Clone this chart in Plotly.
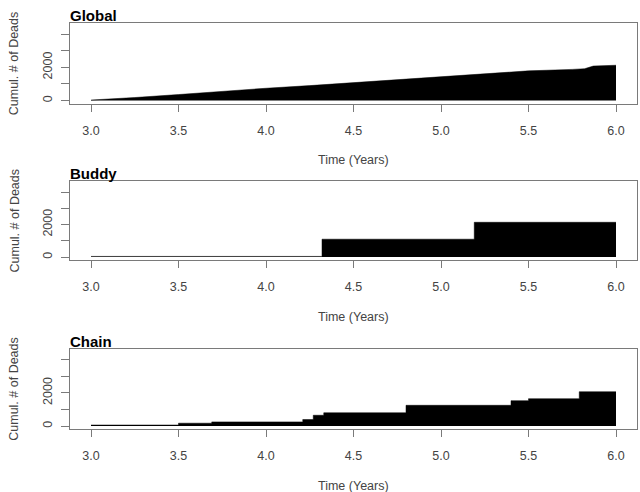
import plotly.graph_objects as go

# ---- data ----
panel_titles = ["Global", "Buddy", "Chain"]

global_t = [3.0, 3.1, 3.25, 3.5, 3.75, 4.0, 4.25, 4.5, 4.75, 5.0, 5.25, 5.5, 5.75, 5.82, 5.87, 6.0]
global_d = [30, 80, 180, 360, 560, 740, 900, 1080, 1260, 1440, 1620, 1790, 1880, 1920, 2080, 2130]

buddy_t = [3.0, 4.32, 5.19, 6.0]
buddy_d = [40, 1100, 2140, 2140]

chain_t = [3.0, 3.5, 3.69, 4.21, 4.27, 4.33, 4.8, 5.4, 5.5, 5.79, 6.0]
chain_d = [60, 170, 250, 390, 650, 800, 1250, 1530, 1650, 2070, 2070]

x_ticks = [3.0, 3.5, 4.0, 4.5, 5.0, 5.5, 6.0]
y_ticks = [0, 1000, 2000, 3000, 4000]
y_tick_text = ["0", "", "2000", "", ""]

x_label = "Time (Years)"
y_label = "Cumul. # of Deads"

# ---- layout geometry (pixels) ----
W, H = 640, 492
left_px, right_px = 70, 637
boxes = [(23, 103.5), (181, 260), (348.5, 429)]  # (top, bottom) in px

FONT = "Liberation Sans, Arial, Helvetica, sans-serif"
AX_COL = "#7a7a7a"
TXT_COL = "#444444"

fig = go.Figure()
series = [(global_t, global_d, "linear"), (buddy_t, buddy_d, "hv"), (chain_t, chain_d, "hv")]

annotations = []
for i, ((t, d, shape), (top, bot)) in enumerate(zip(series, boxes)):
    xa = "x" if i == 0 else f"x{i+1}"
    ya = "y" if i == 0 else f"y{i+1}"
    fig.add_trace(go.Scatter(
        x=t, y=d, mode="lines", line=dict(color="black", width=0.5, shape=shape),
        fill="tozeroy", fillcolor="black", xaxis=xa, yaxis=ya, showlegend=False,
        hoverinfo="skip"))
    xdom = [left_px / W, right_px / W]
    ydom = [1 - bot / H, 1 - top / H]
    xkey = "xaxis" if i == 0 else f"xaxis{i+1}"
    ykey = "yaxis" if i == 0 else f"yaxis{i+1}"
    fig.update_layout(**{
        xkey: dict(domain=xdom, anchor=ya, range=[2.88, 6.12], tickvals=x_ticks,
                   tickformat=".1f", ticks="outside", ticklen=7, tickcolor=AX_COL,
                   showline=True, linecolor=AX_COL, linewidth=1, mirror=True,
                   showgrid=False, zeroline=False, ticklabelstandoff=8,
                   tickfont=dict(family=FONT, size=12.5, color=TXT_COL)),
        ykey: dict(domain=ydom, anchor=xa, range=[-180, 4680], tickvals=y_ticks,
                   ticktext=y_tick_text, tickangle=-90, ticks="outside", ticklen=8,
                   tickcolor=AX_COL, showline=True, linecolor=AX_COL, linewidth=1,
                   mirror=True, showgrid=False, zeroline=False, ticklabelstandoff=4,
                   tickfont=dict(family=FONT, size=12.5, color=TXT_COL)),
    })
    # panel title
    annotations.append(dict(text=f"<b>{panel_titles[i]}</b>", xref="paper", yref="paper",
                            x=left_px / W, y=1 - top / H, xanchor="left", yanchor="bottom",
                            showarrow=False, font=dict(family=FONT, size=15, color="black"),
                            xshift=-2, yshift=-3))
    # x label
    annotations.append(dict(text=x_label, xref="paper", yref="paper",
                            x=(left_px + right_px) / 2 / W, y=1 - (bot + 57) / H,
                            xanchor="center", yanchor="middle", showarrow=False,
                            font=dict(family=FONT, size=12.5, color=TXT_COL)))
    # y label
    annotations.append(dict(text=y_label, xref="paper", yref="paper",
                            x=14 / W, y=1 - (top + bot) / 2 / H, textangle=-90,
                            xanchor="center", yanchor="middle", showarrow=False,
                            font=dict(family=FONT, size=12.5, color=TXT_COL)))

fig.update_layout(width=W, height=H, margin=dict(l=0, r=0, t=0, b=0),
                  paper_bgcolor="white", plot_bgcolor="white",
                  annotations=annotations, font=dict(family=FONT))

fig.write_html("out.html")
